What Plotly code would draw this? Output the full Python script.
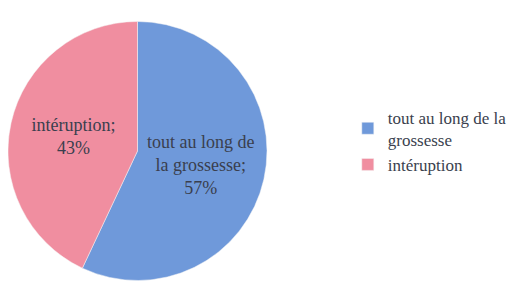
import plotly.graph_objects as go

labels = ["tout au long de la<br>grossesse", "intéruption"]
slice_text = ["tout au long de<br>la grossesse;", "intéruption;"]
values = [57, 43]
colors = ["#6f99da", "#f08ea0"]

fig = go.Figure(go.Pie(
    labels=labels,
    values=values,
    customdata=slice_text,
    texttemplate="%{customdata}<br>%{percent:.0%}",
    textposition="inside",
    insidetextorientation="horizontal",
    sort=False,
    direction="clockwise",
    rotation=0,
    marker=dict(colors=colors, line=dict(color="#f4f4f4", width=0.5)),
    textfont=dict(family="Liberation Serif", size=18, color="#3a3f4e"),
    domain=dict(x=[0.0, 0.5], y=[0.025, 0.961]),
    hoverinfo="label+percent",
))

fig.update_layout(
    width=518, height=282,
    margin=dict(l=0, r=0, t=0, b=0),
    paper_bgcolor="white",
    plot_bgcolor="white",
    showlegend=True,
    legend=dict(
        x=0.656, y=0.675, xanchor="left", yanchor="top",
        font=dict(family="Liberation Serif", size=17, color="#3a3f4e"),
        itemwidth=30,
        tracegroupgap=6,
    ),
)

fig.write_html("out.html")
